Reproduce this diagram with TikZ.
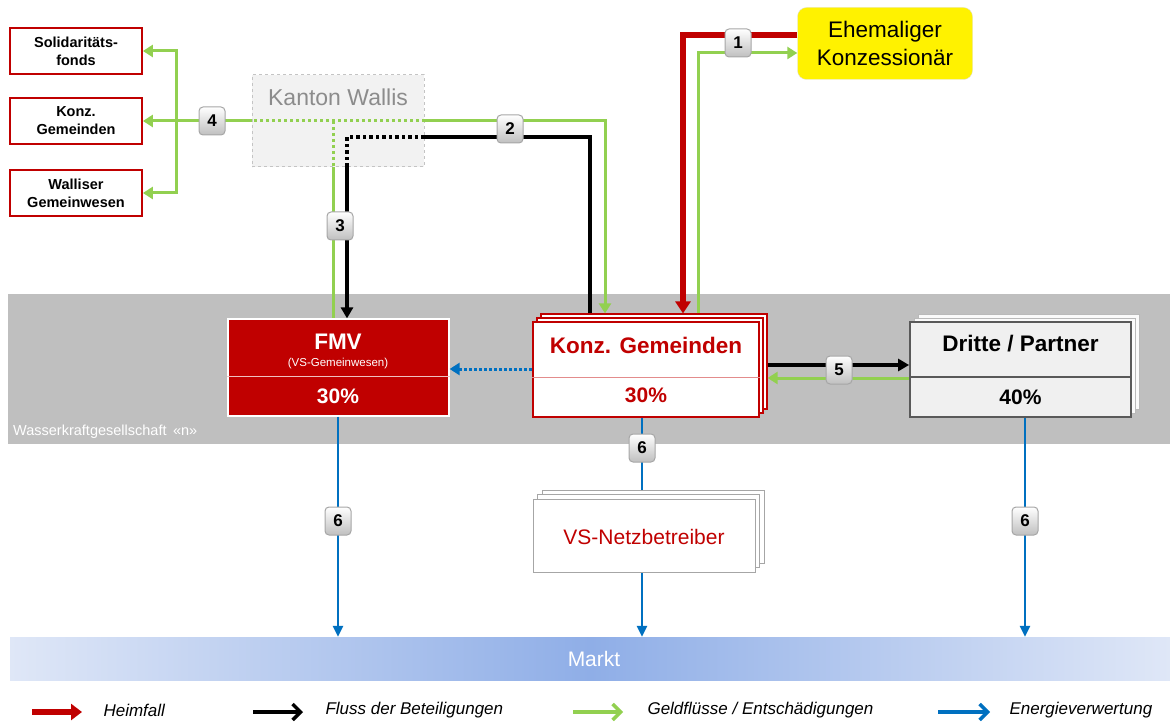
\documentclass[tikz,border=0pt]{standalone}
\usepackage{fontspec}
\setmainfont{Liberation Sans}
\usetikzlibrary{arrows.meta}
\definecolor{hred}{HTML}{C00000}
\definecolor{hgreen}{HTML}{92D050}
\definecolor{hblue}{HTML}{0070C0}
\definecolor{band}{HTML}{BFBFBF}
\definecolor{kfill}{HTML}{F2F2F2}
\definecolor{kline}{HTML}{C4C4C4}
\definecolor{ktext}{HTML}{8C8C8C}
\definecolor{dfill}{HTML}{F0F0F0}
\definecolor{dline}{HTML}{595959}
\definecolor{mlight}{HTML}{DFE7F7}
\definecolor{mmid}{HTML}{8FAEE7}
\begin{document}
\begin{tikzpicture}[x=1pt,y=-1pt,
  leftbox/.style={draw=hred, line width=1.8pt, fill=white, minimum width=132pt, minimum height=46pt, inner sep=0pt, align=center, font=\fontsize{14.5}{18}\selectfont\bfseries},
  badge/.style={draw=gray!70, line width=1pt, rounded corners=4pt, top color=white, bottom color=gray!50, minimum width=26pt, minimum height=28pt, inner sep=0pt, font=\fontsize{17}{17}\selectfont\bfseries},
  gline/.style={hgreen, line width=3pt},
  bline/.style={black, line width=3.5pt},
  rline/.style={hred, line width=6pt},
  eline/.style={hblue, line width=2.6pt},
  gtip/.style={-{Triangle[length=10pt,width=12pt]}},
  btip/.style={-{Triangle[length=11pt,width=12pt]}},
  etip/.style={-{Triangle[length=11pt,width=10pt]}},
  gdot/.style={dash pattern=on 3pt off 3pt},
  bdot/.style={dash pattern=on 3.5pt off 3pt},
  konzbox/.style={draw=hred, line width=1.2pt, fill=white, minimum width=226pt, minimum height=95pt, inner sep=0pt},
  dbox/.style={draw=dline, line width=1.8pt, fill=dfill, minimum width=221pt, minimum height=95pt, inner sep=0pt},
  dback/.style={draw=gray!55, line width=1pt, fill=white!96!gray, minimum width=221pt, minimum height=95pt, inner sep=0pt},
  vsbox/.style={draw=gray!70, line width=1pt, fill=white, minimum width=222pt, minimum height=73pt, inner sep=0pt},
  head/.style={font=\fontsize{22.5}{26}\selectfont\bfseries},
  pct/.style={font=\fontsize{21}{24}\selectfont\bfseries},
  legtxt/.style={anchor=west, font=\fontsize{17}{20}\selectfont\itshape}
]
\useasboundingbox (0,0) rectangle (1170,722);
% background band
\node[fill=band, minimum width=1162pt, minimum height=150pt, inner sep=0pt] (wkg) at (589,369) {};
\node[anchor=west, text=white, font=\fontsize{14.5}{17}\selectfont, inner sep=0pt] (wkgtxt) at (13,432) {Wasserkraftgesellschaft \,«n»};
% Markt
\node[minimum width=1160pt, minimum height=43pt, inner sep=0pt, left color=mlight, right color=mlight, middle color=mmid] (markt) at (590,658.5) {};
\node[text=white, font=\fontsize{21}{24}\selectfont] (markttxt) at (594,659) {Markt};

% left boxes
\node[leftbox] (sol) at (76,51) {Solidaritäts-\\fonds};
\node[leftbox] (konzL) at (76,121) {Konz.\\Gemeinden};
\node[leftbox] (wall) at (76,193) {Walliser\\Gemeinwesen};

% Kanton
\node[draw=kline, dashed, line width=1pt, fill=kfill, minimum width=172pt, minimum height=92pt, inner sep=0pt] (kanton) at (338,121) {};
\node[text=ktext, font=\fontsize{23}{27}\selectfont] (kantontxt) at (338,97) {Kanton Wallis};

% Ehemaliger
\node[draw=black!12, fill=yellow, rounded corners=9pt, minimum width=175pt, minimum height=72pt, align=center, font=\fontsize{22.5}{28}\selectfont] (ehem) at (885,43.5) {Ehemaliger\\Konzessionär};

% Konz. Gemeinden
\node[konzbox] (konzb) at (654,361.5) {};
\node[konzbox] (konzm) at (650,365.5) {};
\node[konzbox, line width=2.2pt] (konz) at (646,369.5) {};
\draw[hred!45, line width=1pt] (konz.west |- 0,377) -- (konz.east |- 0,377);
\node[head, text=hred] (konztxt) at (646,345) {Konz. Gemeinden};
\node[pct, text=hred] (konzpct) at (646,395) {30\%};

% FMV
\node[draw=white, line width=1.2pt, fill=hred, minimum width=221pt, minimum height=97pt, inner sep=0pt] (fmv) at (338.5,367.5) {};
\draw[white!75!hred, line width=1pt] (fmv.west |- 0,376) -- (fmv.east |- 0,376);
\node[head, text=white] (fmvtxt) at (338,342) {FMV};
\node[text=white, font=\fontsize{11.5}{13}\selectfont] (fmvsub) at (338,364) {(VS-Gemeinwesen)};
\node[pct, text=white] (fmvpct) at (338,396) {30\%};

% Dritte / Partner
\node[dback] (drittb) at (1028.5,361.5) {};
\node[dback] (drittm) at (1024.5,365.5) {};
\node[dbox] (dritte) at (1020.5,369.5) {};
\draw[dline, line width=1.2pt] (dritte.west |- 0,377) -- (dritte.east |- 0,377);
\node[head] (drittetxt) at (1020.5,344) {Dritte / Partner};
\node[pct] (drittepct) at (1020.5,397) {40\%};

% connectors
% 1: Heimfall (red) and green back to Ehemaliger
\draw[rline, -{Triangle[length=12pt,width=15pt]}] (ehem.west |- 0,35) -| (683,0 |- konzb.north);
\draw[gline, gtip] (698,0 |- konzb.north) |- (ehem.west |- 0,53);
% 2
\draw[gline, gtip] (kanton.east |- 0,121) -| (605,0 |- konzb.north);
\draw[bline] (590,0 |- konzb.north) |- (kanton.east |- 0,137);
% 3
\draw[bline, bdot] (kanton.east |- 0,137) -| (347,0 |- kanton.south);
\draw[bline, btip] (347,0 |- kanton.south) -- (347,0 |- fmv.north);
\draw[gline, gdot] (kanton.east |- 0,121) -- (kanton.west |- 0,121);
\draw[gline, gdot] (333,121) -- (333,0 |- kanton.south);
\draw[gline] (333,0 |- kanton.south) -- (333,0 |- fmv.north);
% 4
\coordinate (g4) at (176,121);
\draw[gline] (kanton.west |- 0,121) -- (g4);
\draw[gline, gtip] (g4) |- (sol.east);
\draw[gline, gtip] (g4) |- (wall.east);
\draw[gline, gtip] (g4) -- (konzL.east);
% Konz -> FMV dotted blue
\draw[hblue, line width=3pt, dash pattern=on 2.5pt off 2.5pt, -{Triangle[length=10pt,width=12pt]}] (konz.west |- 0,369) -- (fmv.east |- 0,369);
% 5
\draw[bline, btip] (konzb.east |- 0,365) -- (dritte.west |- 0,365);
\draw[gline, gtip] (dritte.west |- 0,378) -- (konzb.east |- 0,378);
% 6
\draw[eline, etip] (338,0 |- fmv.south) -- (338,0 |- markt.north);
\draw[eline, etip] (642,0 |- konz.south) -- (642,0 |- markt.north);
\draw[eline, etip] (1025,0 |- dritte.south) -- (1025,0 |- markt.north);

% VS-Netzbetreiber
\node[vsbox] (vsb) at (653,526.5) {};
\node[vsbox] (vsm) at (648.5,531) {};
\node[vsbox] (vs) at (644,535.5) {};
\node[text=hred, font=\fontsize{21}{24}\selectfont] (vstxt) at (644,537) {VS-Netzbetreiber};

% badges
\node[badge] (b1) at (738,43) {1};
\node[badge] (b2) at (510,129) {2};
\node[badge] (b3) at (340,226) {3};
\node[badge] (b4) at (212,121) {4};
\node[badge] (b5) at (839,370) {5};
\node[badge] (b6a) at (338,521) {6};
\node[badge] (b6b) at (642,448) {6};
\node[badge] (b6c) at (1025,521) {6};

% legend
\coordinate (l1a) at (32,712); \coordinate (l1b) at (82,712);
\coordinate (l2a) at (253,712); \coordinate (l2b) at (303,712);
\coordinate (l3a) at (573,712); \coordinate (l3b) at (623,712);
\coordinate (l4a) at (938,712); \coordinate (l4b) at (990,712);
\draw[rline, -{Triangle[length=11pt,width=16pt]}] (l1a) -- (l1b);
\draw[bline, -{Straight Barb[length=8pt,width=16pt]}] (l2a) -- (l2b);
\draw[gline, line width=3.5pt, -{Straight Barb[length=8pt,width=16pt]}] (l3a) -- (l3b);
\draw[eline, line width=3.5pt, -{Straight Barb[length=8pt,width=16pt]}] (l4a) -- (l4b);
\node[legtxt] (t1) at (100,710) {Heimfall};
\node[legtxt] (t2) at (322,710) {Fluss der Beteiligungen};
\node[legtxt] (t3) at (644,710) {Geldflüsse / Entschädigungen};
\node[legtxt] (t4) at (1006,710) {Energieverwertung};
\end{tikzpicture}
\end{document}
